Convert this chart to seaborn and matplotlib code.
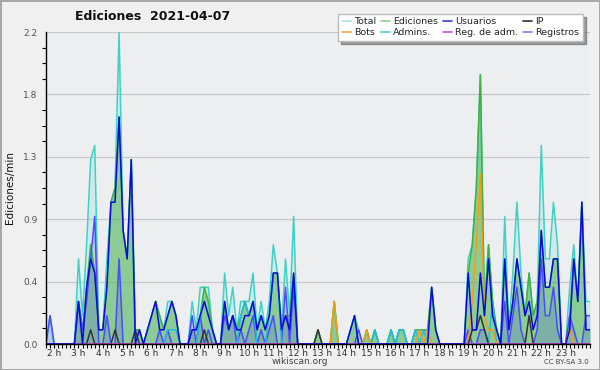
import matplotlib
matplotlib.use("Agg")
import matplotlib.pyplot as plt
from matplotlib.lines import Line2D
from matplotlib.ticker import MultipleLocator, FixedLocator
import numpy as np
import pandas as pd
import seaborn as sns

# Datos: ediciones/min por tramo de 10 minutos, desde las 1h40
inicio = "2021-04-07 01:40"

total = [
    0, 0.2, 0, 0, 0, 0, 0, 0, 0.6, 0.2,
    0.7, 1.3, 1.4, 0.1, 0.1, 0.6, 1.0, 1.1, 2.2, 0.8,
    0.6, 1.3, 0.1, 0.1, 0, 0.1, 0.2, 0.3, 0.2, 0.1,
    0.3, 0.3, 0.2, 0, 0, 0, 0.3, 0.1, 0.4, 0.4,
    0.4, 0.1, 0, 0, 0.5, 0.2, 0.4, 0.1, 0.3, 0.3,
    0.3, 0.5, 0.1, 0.3, 0.1, 0.3, 0.7, 0.5, 0.1, 0.6,
    0.2, 0.9, 0, 0, 0, 0, 0, 0.1, 0, 0,
    0, 0.3, 0, 0, 0, 0.1, 0.2, 0.1, 0, 0.1,
    0, 0.1, 0, 0, 0, 0.1, 0, 0.1, 0.1, 0,
    0, 0.1, 0.1, 0.1, 0.1, 0.4, 0.1, 0, 0, 0,
    0, 0, 0, 0, 0.6, 0.7, 1.1, 1.9, 0.3, 0.7,
    0.3, 0.1, 0, 0.9, 0.1, 0.5, 1.0, 0.5, 0.2, 0.5,
    0.2, 0.3, 1.4, 0.6, 0.6, 1.0, 0.7, 0, 0, 0.4,
    0.7, 0.3, 1.0, 0.3, 0.3,
]

ediciones = [
    0, 0, 0, 0, 0, 0, 0, 0, 0.3, 0.1,
    0.4, 0.7, 0.5, 0.1, 0.1, 0.4, 1.0, 1.1, 1.6, 0.8,
    0.6, 1.3, 0.1, 0.1, 0, 0.1, 0.2, 0.3, 0.2, 0.1,
    0.2, 0.3, 0.2, 0, 0, 0, 0.1, 0.1, 0.2, 0.4,
    0.3, 0.1, 0, 0, 0.3, 0.1, 0.2, 0.1, 0.2, 0.3,
    0.2, 0.3, 0.1, 0.2, 0.1, 0.2, 0.5, 0.5, 0.1, 0.2,
    0.2, 0.5, 0, 0, 0, 0, 0, 0.1, 0, 0,
    0, 0.3, 0, 0, 0, 0.1, 0.2, 0, 0, 0.1,
    0, 0.1, 0, 0, 0, 0.1, 0, 0.1, 0.1, 0,
    0, 0.1, 0.1, 0.1, 0.1, 0.4, 0.1, 0, 0, 0,
    0, 0, 0, 0, 0.5, 0.7, 1.1, 1.9, 0.2, 0.7,
    0.3, 0.1, 0, 0.6, 0.1, 0.3, 0.6, 0.4, 0.2, 0.5,
    0.2, 0.3, 0.8, 0.4, 0.4, 0.6, 0.6, 0, 0, 0.2,
    0.6, 0.3, 1.0, 0.1, 0.1,
]

usuarios = [
    0, 0, 0, 0, 0, 0, 0, 0, 0.3, 0,
    0.4, 0.6, 0.5, 0.1, 0.1, 0.4, 1.0, 1.0, 1.6, 0.8,
    0.6, 1.3, 0, 0.1, 0, 0.1, 0.2, 0.3, 0.1, 0.1,
    0.2, 0.3, 0.2, 0, 0, 0, 0.1, 0.1, 0.2, 0.3,
    0.2, 0.1, 0, 0, 0.3, 0.1, 0.2, 0.1, 0.1, 0.2,
    0.2, 0.3, 0.1, 0.2, 0.1, 0.2, 0.5, 0.5, 0.1, 0.2,
    0.1, 0.5, 0, 0, 0, 0, 0, 0, 0, 0,
    0, 0, 0, 0, 0, 0.1, 0.2, 0, 0, 0,
    0, 0, 0, 0, 0, 0, 0, 0, 0, 0,
    0, 0, 0, 0, 0, 0.4, 0.1, 0, 0, 0,
    0, 0, 0, 0, 0.5, 0.1, 0.1, 0.5, 0.2, 0.6,
    0.2, 0.1, 0, 0.6, 0.1, 0.3, 0.6, 0.4, 0.2, 0.3,
    0.1, 0.2, 0.8, 0.4, 0.4, 0.6, 0.6, 0, 0, 0.1,
    0.6, 0.3, 1.0, 0.1, 0.1,
]

ip = [
    0, 0, 0, 0, 0, 0, 0, 0, 0, 0,
    0, 0.1, 0, 0, 0, 0, 0, 0.1, 0, 0,
    0, 0, 0.1, 0, 0, 0, 0, 0, 0, 0,
    0, 0, 0, 0, 0, 0, 0, 0, 0, 0.1,
    0, 0, 0, 0, 0, 0, 0, 0, 0, 0,
    0, 0, 0, 0, 0, 0, 0, 0, 0, 0,
    0, 0, 0, 0, 0, 0, 0, 0.1, 0, 0,
    0, 0, 0, 0, 0, 0, 0, 0, 0, 0,
    0, 0, 0, 0, 0, 0, 0, 0, 0, 0,
    0, 0, 0, 0, 0, 0, 0, 0, 0, 0,
    0, 0, 0, 0, 0, 0.1, 0.1, 0.2, 0.1, 0,
    0, 0, 0, 0, 0, 0, 0, 0, 0, 0.2,
    0, 0, 0, 0, 0, 0, 0, 0, 0, 0,
    0, 0, 0, 0, 0,
]

bots = [
    0, 0, 0, 0, 0, 0, 0, 0, 0, 0,
    0, 0, 0, 0, 0, 0, 0, 0, 0, 0,
    0, 0, 0, 0, 0, 0, 0, 0, 0, 0,
    0, 0, 0, 0, 0, 0, 0, 0, 0, 0,
    0, 0, 0, 0, 0, 0, 0, 0, 0, 0,
    0, 0, 0, 0, 0, 0, 0, 0, 0, 0,
    0, 0, 0, 0, 0, 0, 0, 0, 0, 0,
    0, 0.3, 0, 0, 0, 0, 0, 0, 0, 0.1,
    0, 0, 0, 0, 0, 0, 0, 0, 0, 0,
    0, 0, 0.1, 0, 0.1, 0, 0, 0, 0, 0,
    0, 0, 0, 0, 0, 0.3, 0.7, 1.2, 0.2, 0.1,
    0.1, 0, 0, 0, 0, 0, 0, 0, 0, 0,
    0, 0, 0, 0, 0, 0, 0, 0, 0, 0.1,
    0, 0, 0, 0, 0,
]

admins = [
    0, 0, 0, 0, 0, 0, 0, 0, 0, 0,
    0, 0, 0, 0, 0, 0, 0, 0, 0, 0,
    0, 0, 0, 0, 0, 0, 0, 0, 0, 0,
    0.1, 0.1, 0.1, 0, 0, 0, 0, 0, 0.2, 0.3,
    0.2, 0.1, 0, 0, 0, 0, 0, 0, 0.2, 0.3,
    0.2, 0.3, 0, 0, 0, 0.2, 0.5, 0.5, 0, 0,
    0, 0, 0, 0, 0, 0, 0, 0, 0, 0,
    0, 0, 0, 0, 0, 0, 0, 0, 0, 0,
    0, 0.1, 0, 0, 0, 0.1, 0, 0.1, 0.1, 0,
    0, 0.1, 0, 0.1, 0, 0, 0, 0, 0, 0,
    0, 0, 0, 0, 0, 0, 0, 0, 0, 0,
    0.3, 0, 0, 0, 0, 0, 0, 0, 0, 0,
    0, 0, 0, 0, 0, 0, 0, 0, 0, 0,
    0, 0, 0, 0, 0,
]

reg_adm = [
    0, 0, 0, 0, 0, 0, 0, 0, 0, 0,
    0, 0, 0, 0, 0, 0, 0, 0, 0, 0,
    0, 0, 0, 0, 0, 0, 0, 0, 0, 0,
    0, 0, 0, 0, 0, 0, 0, 0, 0, 0,
    0, 0, 0, 0, 0, 0, 0, 0, 0, 0,
    0, 0, 0, 0, 0, 0, 0, 0, 0, 0,
    0, 0, 0, 0, 0, 0, 0, 0, 0, 0,
    0, 0, 0, 0, 0, 0, 0, 0, 0, 0,
    0, 0, 0, 0, 0, 0, 0, 0, 0, 0,
    0, 0, 0, 0, 0, 0, 0, 0, 0, 0,
    0, 0, 0, 0, 0, 0, 0, 0, 0, 0,
    0, 0, 0, 0, 0, 0, 0, 0, 0, 0,
    0, 0, 0, 0, 0, 0, 0, 0, 0, 0,
    0, 0, 0, 0, 0,
]

registros = [
    0, 0.2, 0, 0, 0, 0, 0, 0, 0.3, 0.1,
    0.3, 0.6, 0.9, 0, 0, 0.2, 0, 0, 0.6, 0,
    0, 0, 0, 0, 0, 0, 0, 0, 0.1, 0,
    0.1, 0, 0, 0, 0, 0, 0.2, 0, 0.2, 0,
    0.1, 0, 0, 0, 0.2, 0.1, 0.2, 0, 0.1, 0,
    0.1, 0.2, 0, 0.1, 0, 0.1, 0.2, 0, 0, 0.4,
    0, 0.4, 0, 0, 0, 0, 0, 0, 0, 0,
    0, 0, 0, 0, 0, 0, 0, 0.1, 0, 0,
    0, 0, 0, 0, 0, 0, 0, 0, 0, 0,
    0, 0, 0, 0, 0, 0, 0, 0, 0, 0,
    0, 0, 0, 0, 0.1, 0, 0, 0.1, 0.1, 0,
    0, 0, 0, 0.3, 0, 0.2, 0.4, 0.1, 0, 0,
    0, 0.1, 0.6, 0.2, 0.2, 0.4, 0.1, 0, 0, 0.2,
    0.1, 0, 0, 0.2, 0.2,
]

horas_etiquetas = list(range(2, 24))

# colores de las líneas y de la leyenda
colores = {
    "Total": "#3ed2c6",
    "Ediciones": "#3fb23f",
    "Usuarios": "#0a0ae0",
    "IP": "#333333",
    "Bots": "#ff9a10",
    "Admins.": "#20bde0",
    "Reg. de adm.": "#d040e0",
    "Registros": "#4b4bff",
}
colores_leyenda = {
    "Total": "#a8e8e2",
    "Ediciones": "#8fd08f",
    "Usuarios": "#3a3ae8",
    "IP": "#303030",
    "Bots": "#ffa040",
    "Admins.": "#50c8e4",
    "Reg. de adm.": "#d050e8",
    "Registros": "#8080ff",
}

tiempo = pd.date_range(inicio, periods=len(total), freq="10min")
horas = np.asarray((tiempo - tiempo[0].normalize()) / pd.Timedelta(hours=1))

df = pd.DataFrame({
    "hora": horas,
    "Total": total,
    "Ediciones": ediciones,
    "Registros": registros,
    "Admins.": admins,
    "Bots": bots,
    "IP": ip,
    "Reg. de adm.": reg_adm,
    "Usuarios": usuarios,
})
largo = df.melt(id_vars="hora", var_name="serie", value_name="valor")
orden = ["Total", "Ediciones", "Registros", "Admins.", "Bots", "IP",
         "Reg. de adm.", "Usuarios"]

sns.set_style("white")
plt.rcParams["font.family"] = ["DejaVu Sans"]

fig = plt.figure(figsize=(6, 3.7), dpi=100, facecolor="#f0f0f0",
                 edgecolor="#a8a8a8", linewidth=2)
ax = fig.add_axes([46 / 600, 26 / 370, 544 / 600, 312 / 370])
ax.set_facecolor("#eceef0")

# rellenos
ax.fill_between(df["hora"], df["Total"], color="#3ed2c6", alpha=0.15, lw=0)
ax.fill_between(df["hora"], df["Ediciones"], color="#5cb85c", alpha=0.6, lw=0)
ax.fill_between(df["hora"], df["Registros"], color="#4040ff", alpha=0.18, lw=0)

sns.lineplot(data=largo, x="hora", y="valor", hue="serie", hue_order=orden,
             palette=colores, linewidth=1.1, legend=False, ax=ax)

ax.set_xlim(horas[0], horas[-1])
ax.set_ylim(0, 2.2)

# eje y
yt = np.linspace(0, 2.2, 6)
ax.yaxis.set_major_locator(FixedLocator(yt))
ax.set_yticklabels([f"{v:.1f}" for v in yt])
ax.yaxis.set_minor_locator(MultipleLocator(0.11))
ax.yaxis.grid(True, which="major", color="#c8c8c8", lw=0.9)
ax.set_axisbelow(True)
ax.set_ylabel("Ediciones/min", fontsize=7.5, color="#111111", labelpad=6)

# eje x
ax.xaxis.set_major_locator(FixedLocator(horas_etiquetas))
ax.set_xticklabels([f"{h} h" for h in horas_etiquetas])
ax.xaxis.set_minor_locator(MultipleLocator(1 / 6))
ax.set_xlabel("")

ax.tick_params(axis="y", which="major", direction="out", length=5, width=0.8,
               color="black", labelsize=6.5, labelcolor="#555555", pad=1)
ax.tick_params(axis="y", which="minor", direction="out", length=3, width=0.8,
               color="black", left=True)
ax.tick_params(axis="x", which="both", direction="out", length=3, width=0.8,
               color="black", bottom=True)
ax.tick_params(axis="x", which="major", labelsize=6.5, labelcolor="#333333", pad=0.5)

for lado in ["top", "right"]:
    ax.spines[lado].set_visible(False)
for lado in ["left", "bottom"]:
    ax.spines[lado].set_color("black")
    ax.spines[lado].set_linewidth(1)

# título y textos
fig.text(153 / 600, 1 - 16 / 370, "Ediciones  2021-04-07", ha="center", va="center",
         fontsize=9, fontweight="bold", color="#111111")
fig.text(300 / 600, 1 - 361 / 370, "wikiscan.org", ha="center", va="center",
         fontsize=6.5, color="#444444")
fig.text(589 / 600, 1 - 362 / 370, "CC BY-SA 3.0", ha="right", va="center",
         fontsize=5, color="#444444")

# leyenda
orden_leyenda = ["Total", "Bots", "Ediciones", "Admins.", "Usuarios",
                 "Reg. de adm.", "IP", "Registros"]
manejadores = [Line2D([], [], color=colores_leyenda[n], lw=1.2, label=n)
               for n in orden_leyenda]
fig.legend(handles=manejadores, ncol=4, loc="upper right",
           bbox_to_anchor=(588 / 600, 1 - 9 / 370), fontsize=6.8,
           frameon=True, fancybox=False, shadow=True, edgecolor="#bbbbbb",
           facecolor="white", framealpha=1, handlelength=1.0, handletextpad=0.35,
           columnspacing=0.45, borderpad=0.4, labelspacing=0.2)

fig.savefig("out.png", dpi=100, facecolor=fig.get_facecolor(),
            edgecolor=fig.get_edgecolor())
